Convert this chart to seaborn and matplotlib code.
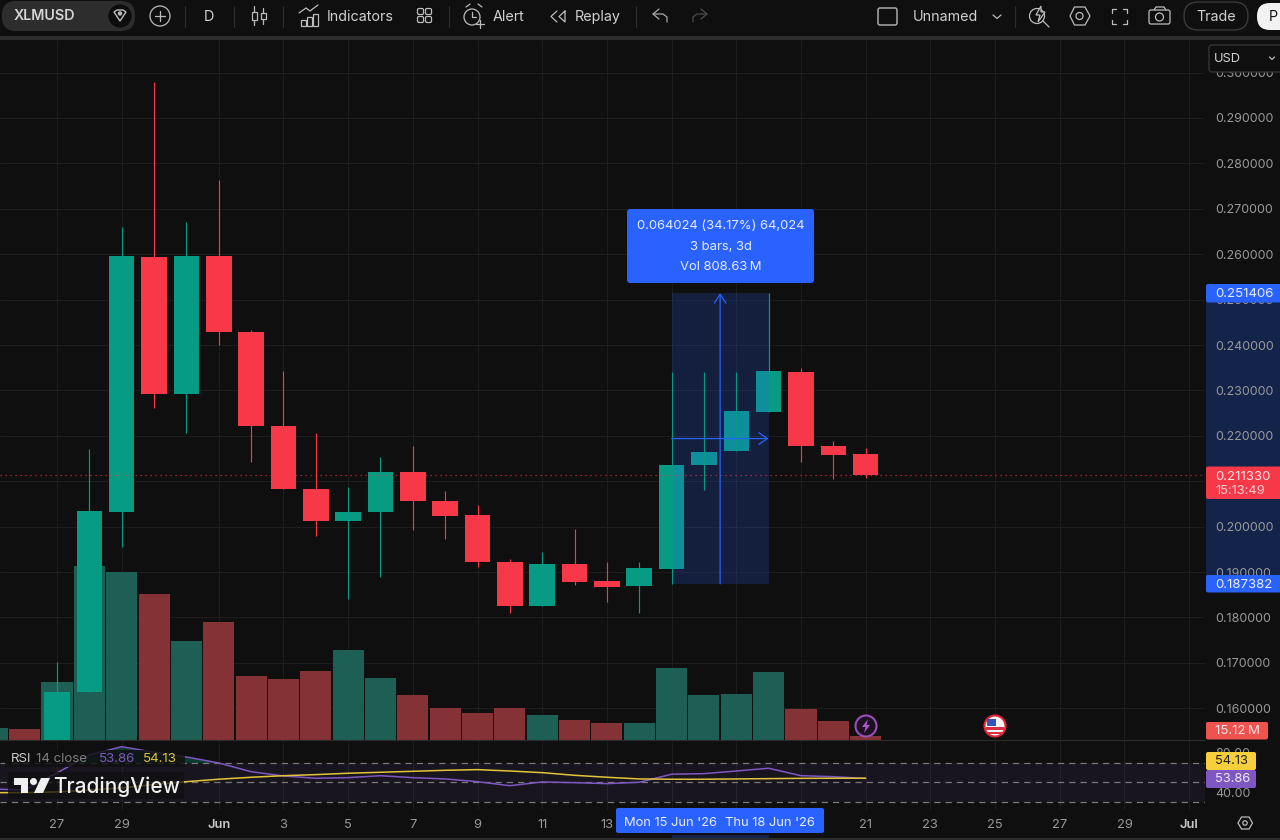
import matplotlib
matplotlib.use("Agg")
import matplotlib.pyplot as plt
import numpy as np
import pandas as pd
import seaborn as sns
from matplotlib.patches import Circle, FancyBboxPatch, Polygon, Rectangle

W, H = 1280, 840

# x is days counted from 27 May
candle_days = list(range(0, 26))
opens = [0.1500, 0.1636, 0.2033, 0.2594, 0.2291, 0.2597, 0.2428, 0.2221, 0.2083, 0.2012,
         0.2032, 0.2120, 0.2057, 0.2026, 0.1922, 0.1825, 0.1918, 0.1880, 0.1869, 0.1907,
         0.2135, 0.2167, 0.2252, 0.2341, 0.2178, 0.2160]
closes = [0.1636, 0.2034, 0.2597, 0.2291, 0.2597, 0.2428, 0.2221, 0.2083, 0.2012, 0.2032,
          0.2120, 0.2057, 0.2023, 0.1921, 0.1825, 0.1918, 0.1878, 0.1868, 0.1908, 0.2135,
          0.2165, 0.2254, 0.2342, 0.2178, 0.2158, 0.21133]
highs = [0.1702, 0.2172, 0.2661, 0.2980, 0.2671, 0.2763, 0.2434, 0.2343, 0.2206, 0.2087,
         0.2153, 0.2178, 0.2079, 0.2047, 0.1929, 0.1943, 0.1995, 0.1922, 0.1923, 0.2340,
         0.2340, 0.2340, 0.2514, 0.2349, 0.2188, 0.2173]
lows = [0.1500, 0.1636, 0.1956, 0.2262, 0.2207, 0.2400, 0.2142, 0.2083, 0.1980, 0.1841,
        0.1888, 0.1993, 0.1973, 0.1910, 0.1809, 0.1825, 0.1871, 0.1833, 0.1809, 0.1874,
        0.2081, 0.2167, 0.2252, 0.2142, 0.2104, 0.2108]

volume_days = list(range(-2, 26))
volumes_m = [58, 55, 288, 870, 838, 728, 492, 588, 318, 302, 342, 448, 308, 222,
             158, 132, 158, 122, 98, 82, 82, 358, 222, 228, 338, 152, 92, 15.12]
volume_up = [1, 0, 1, 1, 1, 0, 1, 0, 0, 0, 0, 1, 1, 0,
             0, 0, 0, 1, 0, 0, 1, 1, 1, 1, 1, 0, 0, 0]

rsi_days = list(range(-2, 26))
rsi_values = [43.2, 42.0, 59.5, 77.9, 86.3, 80.6, 75.8, 69.7, 60.8, 56.4, 54.1, 54.7, 56.7, 54.7,
              53.4, 50.6, 46.5, 50.3, 49.6, 48.6, 50.0, 58.2, 58.8, 61.5, 64.3, 56.7, 55.7, 53.86]
rsi_ma = [39.4, 39.4, 40.1, 42.1, 44.2, 47.8, 50.6, 53.1, 55.1, 56.7, 57.8, 59.2, 60.2, 61.2,
          62.2, 62.9, 61.5, 59.8, 57.1, 55.1, 53.4, 53.1, 53.1, 53.4, 53.7, 54.0, 54.1, 54.13]

price_ticks = [0.16, 0.17, 0.18, 0.19, 0.20, 0.21, 0.22, 0.23, 0.24, 0.25, 0.26, 0.27, 0.28, 0.29, 0.30]
hidden_price_ticks = [0.21]
date_ticks = [0, 2, 5, 7, 9, 11, 13, 15, 17, 19, 21, 23, 25, 27, 29, 31, 33, 35]
date_labels = ["27", "29", "Jun", "3", "5", "7", "9", "11", "13", "", "", "",
               "21", "23", "25", "27", "29", "Jul"]

last_price = 0.21133
measure_low = 0.187382
measure_high = 0.251406
measure_start = 19
measure_end = 22

BG = "#0f0f0f"
GRID = "#1d1d1d"
UP = "#089b83"
DOWN = "#f63849"
VOL_UP = "#1e5f55"
VOL_DOWN = "#853236"
BLUE = "#2962ff"
PURPLE = "#7e57c2"
YELLOW = "#e3c33a"
TICK = "#999999"
TEXT = "#d0d0d0"

sns.set_theme(style="dark", rc={"figure.facecolor": BG, "axes.facecolor": BG, "axes.edgecolor": BG})
plt.rcParams["font.family"] = ["Inter", "DejaVu Sans"]


def px_axes(fig, left, top, right, bottom, **kw):
    return fig.add_axes([left / W, 1 - bottom / H, (right - left) / W, (bottom - top) / H], **kw)


def clean(ax):
    ax.set_xlabel("")
    ax.set_ylabel("")
    ax.set_xlim(-1.762, 35.49)
    for s in ax.spines.values():
        s.set_visible(False)


fig = plt.figure(figsize=(W / 100, H / 100), dpi=100)

# blue band in the price scale sits under the tick labels
fig.add_artist(Rectangle((1206 / W, 1 - 584 / H), 74 / W, 291 / H, transform=fig.transFigure,
                         color="#13234a", lw=0, zorder=-1))

# back layer: grid and price scale
ax_grid = px_axes(fig, 0, 40, 1205, 739.5, zorder=1)
ax_grid.set_ylim(0.15311, 0.30718)
clean(ax_grid)
ax_grid.yaxis.tick_right()
ax_grid.set_yticks(price_ticks, ["" if p in hidden_price_ticks else f"{p:.6f}" for p in price_ticks])
ax_grid.set_xticks(date_ticks, [])
ax_grid.grid(True, color=GRID, lw=0.8)
ax_grid.tick_params(axis="y", length=0, pad=7.2, labelsize=9.0, labelcolor=TICK)
ax_grid.tick_params(axis="x", length=0)

# volume
ax_vol = px_axes(fig, 0, 40, 1205, 739.5, zorder=2)
ax_vol.patch.set_alpha(0)
vol_df = pd.DataFrame({"day": volume_days, "volume": volumes_m, "up": volume_up})
sns.barplot(data=vol_df, x="day", y="volume", hue="up", palette={1: VOL_UP, 0: VOL_DOWN},
            native_scale=True, dodge=False, width=0.96, saturation=1, errorbar=None,
            legend=False, linewidth=0, ax=ax_vol)
ax_vol.set_ylim(0, 699.5 * 5)
clean(ax_vol)
ax_vol.set_xticks([])
ax_vol.set_yticks([])

# candles
ax = px_axes(fig, 0, 40, 1205, 739.5, zorder=3)
ax.patch.set_alpha(0)
colors = [UP if c >= o else DOWN for o, c in zip(opens, closes)]
ax.vlines(candle_days, lows, highs, colors=colors, lw=0.85)
ax.bar(candle_days, [abs(c - o) for o, c in zip(opens, closes)],
       bottom=[min(o, c) for o, c in zip(opens, closes)], width=0.79, color=colors, lw=0)
ax.axhline(last_price, color=DOWN, lw=0.9, ls=(0, (1, 3)), alpha=0.75)

# measure tool
ax.add_patch(Rectangle((measure_start, measure_low), measure_end - measure_start,
                       measure_high - measure_low, color=BLUE, alpha=0.2, lw=0))
mid_x = (measure_start + measure_end) / 2
mid_y = (measure_low + measure_high) / 2
arrow = dict(arrowstyle="->,head_length=0.45,head_width=0.3", color=BLUE, lw=0.9,
             shrinkA=0, shrinkB=0, mutation_scale=14)
ax.annotate("", xy=(mid_x, measure_high), xytext=(mid_x, measure_low), arrowprops=arrow)
ax.annotate("", xy=(measure_end, mid_y), xytext=(measure_start, mid_y), arrowprops=arrow)
ax.set_ylim(0.15311, 0.30718)
clean(ax)
ax.set_xticks([])
ax.set_yticks([])

# RSI pane
ax_rsi = px_axes(fig, 0, 741, 1205, 810, zorder=4)
ax_rsi.axhspan(30, 70, color=PURPLE, alpha=0.09, lw=0)
for level in (30, 50, 70):
    ax_rsi.axhline(level, color="#787878", lw=0.9, ls=(0, (5, 4)))
rsi_arr = np.array(rsi_values)
ax_rsi.fill_between(rsi_days, 70, rsi_arr, where=rsi_arr > 70, interpolate=True,
                    color=UP, alpha=0.3, lw=0)
sns.lineplot(x=rsi_days, y=rsi_values, color=PURPLE, lw=1.1, ax=ax_rsi)
sns.lineplot(x=rsi_days, y=rsi_ma, color=YELLOW, lw=1.1, ax=ax_rsi)
ax_rsi.set_ylim(21.7, 92.1)
clean(ax_rsi)
ax_rsi.yaxis.tick_right()
ax_rsi.set_yticks([40, 80], ["40.00", "80.00"])
ax_rsi.set_xticks(date_ticks, date_labels)
ax_rsi.grid(True, axis="x", color=GRID, lw=0.8)
ax_rsi.tick_params(axis="y", length=0, pad=7.2, labelsize=9.0, labelcolor=TICK)
ax_rsi.tick_params(axis="x", length=0, pad=6.5, labelsize=9.3, labelcolor=TICK)
for lab in ax_rsi.get_xticklabels():
    if lab.get_text() in ("Jun", "Jul"):
        lab.set_fontweight("semibold")
        lab.set_color("#c8c8c8")

# everything else is interface chrome, in screen pixels
ov = fig.add_axes([0, 0, 1, 1], zorder=10)
ov.set_xlim(0, W)
ov.set_ylim(H, 0)
ov.axis("off")
ov.patch.set_alpha(0)

LINE = "#bcbcbc"


def txt(x, y, s, color=TEXT, size=10.3, ha="left", **kw):
    ov.text(x, y + 1, s, color=color, fontsize=size, ha=ha, va="center", **kw)


def box(x0, y0, x1, y1, color, r=2.0, **kw):
    ov.add_patch(FancyBboxPatch((x0, y0), x1 - x0, y1 - y0, boxstyle=f"round,pad=0,rounding_size={r}",
                                fc=color, ec=kw.pop("ec", "none"), lw=kw.pop("lw", 0), **kw))


def line(xs, ys, color=LINE, lw=0.9):
    ov.plot(xs, ys, color=color, lw=lw, solid_capstyle="round")


def ring(x, y, r, color=LINE, fc="none", lw=0.9):
    ov.add_patch(Circle((x, y), r, fc=fc, ec=color, lw=lw))


# separators
ov.add_patch(Rectangle((0, 36), W, 4, color="#2c2c2c", lw=0))
ov.add_patch(Rectangle((0, 838), W, 2, color="#2c2c2c", lw=0))
ov.plot([0, 1205], [740, 740], color="#2c2c2c", lw=0.8)
for sx in (185, 233.5, 283, 449, 636, 1015):
    line([sx, sx], [6, 27], color="#2c2c2c")

# symbol pill
box(2, 1, 135, 31, "#2d2d2d", r=14)
txt(14, 15.5, "XLMUSD", color="#d4d4d4", size=10.3, fontweight="semibold")
ring(120, 16, 11, color="#0d0d0d", fc="#0d0d0d")
ov.add_patch(Polygon([(114, 12), (117, 10), (123, 10), (126, 12), (120, 21)], fc="none", ec=LINE, lw=1))
ring(120, 13.5, 1.6, color=LINE, fc=LINE)

ring(160, 16, 10)
line([155, 165], [16, 16])
line([160, 160], [11, 21])
txt(209, 16, "D", ha="center")

# candle icon
for cx, t, b, t2, b2 in ((254, 9, 23, 12, 20), (263, 11, 22, 13, 19)):
    line([cx, cx], [t - 3, b + 2])
    ov.add_patch(Rectangle((cx - 2.5, t2), 5, b2 - t2, fc=BG, ec=LINE, lw=0.9, zorder=3))

# indicators icon
for bx, h in ((301, 6), (307, 9), (313, 12)):
    ov.add_patch(Rectangle((bx, 26 - h), 5, h, fc="none", ec=LINE, lw=0.9))
line([299, 306, 310, 318], [13, 8, 11, 5])
txt(327, 16, "Indicators")

for qx in (417.5, 425.5):
    for qy in (8.5, 16.5):
        box(qx, qy, qx + 6, qy + 6, "none", r=1.5, ec=LINE, lw=0.9)

# alert icon
ring(472, 17, 8)
line([472, 472, 476], [12, 17, 17])
line([466, 470], [7, 4])
line([478, 482], [4, 7])
line([476, 484], [24, 24])
line([480, 480], [20, 28])
txt(493, 16, "Alert")

# replay icon
line([557, 551, 557], [11, 16.5, 22])
line([565, 559, 565, 565], [11, 16.5, 22, 11])
txt(575, 16, "Replay")

# undo and redo
line([659, 653, 659], [9, 14, 19], color="#a8a8a8")
line([653, 663, 667, 667], [14, 14, 17, 22], color="#a8a8a8")
line([701, 707, 701], [9, 14, 19], color="#4c4c4c")
line([707, 697, 693, 693], [14, 14, 17, 22], color="#4c4c4c")

box(878, 8, 897, 25, "none", r=2, ec="#aaaaaa", lw=1.1)
txt(913, 16, "Unnamed")
line([993, 997, 1001], [15, 18.5, 15])

# right toolbar icons
ring(1037, 16, 7.5)
ov.add_patch(Polygon([(1041, 6), (1036, 15), (1040, 15), (1038, 22), (1045, 12), (1041, 12)], fc=BG, ec=LINE, lw=0.9))
line([1043, 1049], [21, 27])
ov.add_patch(Polygon([(1070, 16), (1074.5, 7), (1085, 7), (1090, 16), (1085, 25), (1074.5, 25)], fc="none", ec=LINE, lw=0.9))
ring(1079.5, 16, 3.5)
for fx, fy, dx, dy in ((1112, 9, 1, 1), (1127, 9, -1, 1), (1112, 24, 1, -1), (1127, 24, -1, -1)):
    line([fx + 4 * dx, fx, fx], [fy, fy, fy + 4 * dy])
box(1149, 10, 1170, 24, "none", r=2, ec=LINE, lw=0.9)
ring(1159.5, 17, 4)
line([1154, 1156, 1164, 1166], [10, 7, 7, 10])
box(1184, 2, 1248, 30, BG, r=14, ec="#3a3a3a", lw=1)
txt(1216, 16, "Trade", ha="center")
box(1257, 3, 1300, 30, "#f2f2f2", r=13)
txt(1269, 16, "P", color="#111111")

# USD box
box(1209, 45, 1290, 72, BG, r=3, ec="#333333", lw=1)
txt(1214, 57.5, "USD", size=9.3)
line([1269.5, 1272, 1274.5], [57, 59.5, 57])

# measure label
box(627, 209, 814, 283, BLUE, r=3)
txt(720.5, 225, "0.064024 (34.17%) 64,024", color="#e6ecff", size=9.4, ha="center")
txt(720.5, 245.5, "3 bars, 3d", color="#e6ecff", size=9.4, ha="center")
txt(720.5, 266.5, "Vol 808.63\u2009M", color="#e6ecff", size=9.4, ha="center")

# price scale labels
box(1206, 284, 1285, 302.5, BLUE, r=2)
txt(1215, 293, "0.251406", color="#e8eeff", size=9.5)
box(1206, 575, 1285, 592.5, BLUE, r=2)
txt(1215, 583.5, "0.187382", color="#e8eeff", size=9.5)
box(1206, 466.5, 1285, 499, DOWN, r=2)
txt(1215, 475.5, "0.211330", color="#ffe3e5", size=9.5)
txt(1215, 490, "15:13:49", color="#ffc9cd", size=9.3)
box(1206, 722, 1268, 739.5, "#ef5350", r=2)
txt(1215, 730.5, "15.12\u2009M", color="#ffe3e5", size=9.5)
box(1206, 752, 1256, 770, "#f7cf3d", r=2)
txt(1215, 760.5, "54.13", color="#222222", size=9.3)
box(1206, 770, 1256, 788, PURPLE, r=2)
txt(1215, 778.5, "53.86", color="#efe9ff", size=9.3)

# RSI legend and logo keep a dim plate over the lines
ov.add_patch(Rectangle((5, 750), 180, 17, color=BG, alpha=0.8, lw=0))
txt(11, 757.5, "RSI", color="#c8c8c8", size=9.6)
txt(36, 757.5, "14 close", color="#7d7d7d", size=9.6)
txt(99, 757.5, "53.86", color=PURPLE, size=9.6)
txt(143, 757.5, "54.13", color=YELLOW, size=9.6)

ov.add_patch(Rectangle((8, 772), 176, 27, color=BG, alpha=0.75, lw=0))
ov.add_patch(Polygon([(14, 778), (28, 778), (28, 793), (21, 793), (21, 785), (14, 785)], fc="#f0f0f0", lw=0))
ring(33.5, 781.5, 3.5, color="#f0f0f0", fc="#f0f0f0", lw=0)
ov.add_patch(Polygon([(41, 778), (50, 778), (43, 793), (34, 793)], fc="#f0f0f0", lw=0))
txt(53, 785.5, "TradingView", color="#f0f0f0", size=15.0, fontweight="medium")

# crosshair date labels
ov.add_patch(Rectangle((672, 835), 97, 3, color="#13234a", lw=0))
box(616, 808, 722, 833, BLUE, r=2)
txt(671, 822, "Mon 15 Jun '26", color="#e8eeff", size=9.3, ha="center")
box(716, 808, 824, 833, BLUE, r=2)
txt(769.5, 822, "Thu 18 Jun '26", color="#e8eeff", size=9.3, ha="center")

# scale settings icon
ov.add_patch(Polygon([(1238, 823), (1241.5, 817), (1249, 817), (1252.5, 823), (1249, 829), (1241.5, 829)], fc="none", ec=LINE, lw=0.9))
ring(1245, 823, 2.2)

# event icons
ring(866, 726, 10.5, color="#9c4fb5", fc="#1c1022", lw=1.5)
ov.add_patch(Polygon([(868, 719), (862, 727), (865.5, 727), (864, 733), (870, 725), (866.5, 725)], fc="#a85ac0", lw=0))
ring(995, 726, 10.5, color="#e0243a", fc="#f4f4f4", lw=1.5)
ov.add_patch(Rectangle((986, 727), 18, 2.5, color="#d8303f", lw=0))
ov.add_patch(Rectangle((987, 732), 16, 2, color="#d8303f", lw=0))
ov.add_patch(Rectangle((987, 719), 9, 7, color="#2f56b8", lw=0))

fig.savefig("out.png", dpi=100, facecolor=BG)
